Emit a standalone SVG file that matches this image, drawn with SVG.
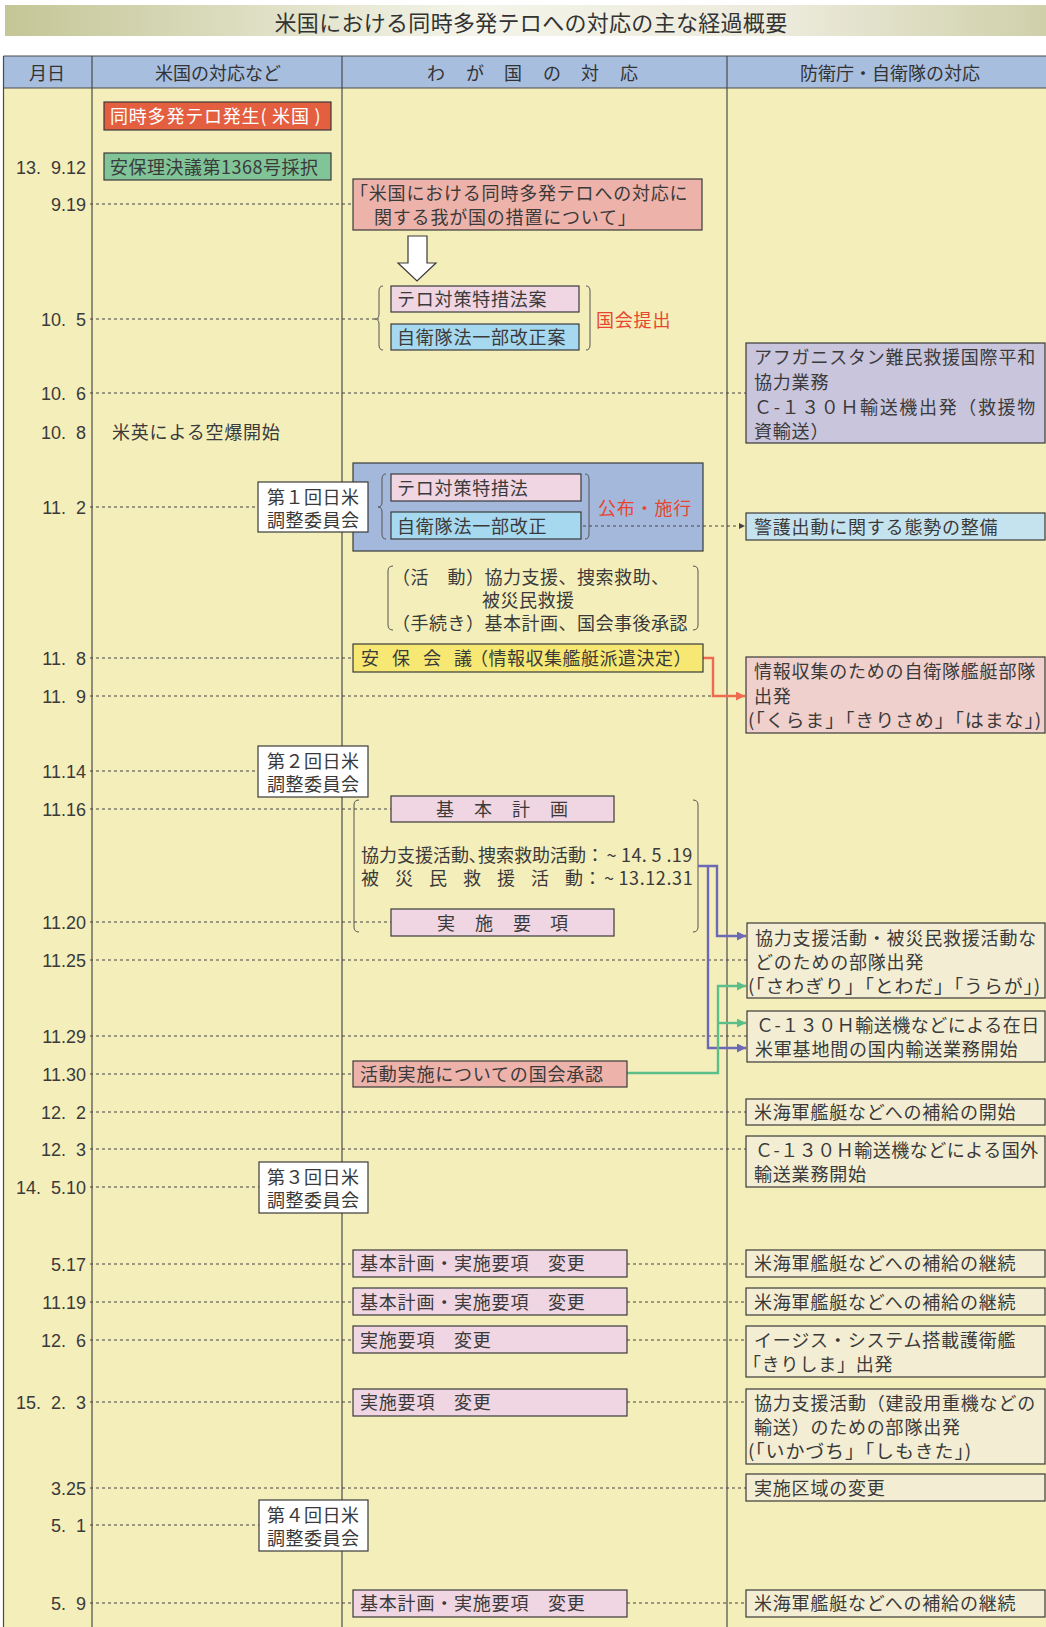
<svg xmlns="http://www.w3.org/2000/svg" width="1046" height="1627" viewBox="0 0 1046 1627">
<style>
.t{font-family:"Noto Sans CJK JP","Noto Sans",sans-serif;font-size:18px;fill:#3a3a3a;letter-spacing:0.8px}
.n{letter-spacing:0.5px}
.h{font-family:"Noto Sans CJK JP","Noto Sans",sans-serif;font-size:18px;fill:#333;text-anchor:middle}
.d{font-family:"Liberation Sans",Arial,sans-serif;font-size:18px;fill:#3a3a3a;text-anchor:end}
.red{fill:#e8452f}
.wt{fill:#fff}
.box{stroke:#3a3a3a;stroke-width:1.2}
.cream{fill:#f3eed3}
.pink{fill:#f0d5e2}
.salmon{fill:#edb2aa}
.lblue{fill:#a6d8ef}
.white{fill:#fff}
.dot{stroke:#444;stroke-width:1;stroke-dasharray:3 3;fill:none}
.brace{stroke:#555;stroke-width:1;fill:none}
.col{stroke:#4a4a4a;stroke-width:1.2}
</style>
<defs>
<linearGradient id="tg" x1="0" y1="0" x2="1" y2="0">
<stop offset="0" stop-color="#c4c696"/>
<stop offset="0.45" stop-color="#f4f4ea"/>
<stop offset="0.75" stop-color="#eceadb"/>
<stop offset="1" stop-color="#cfd0aa"/>
</linearGradient>
<marker id="arP" viewBox="0 0 10 10" refX="10" refY="5" markerWidth="9" markerHeight="9" markerUnits="userSpaceOnUse" orient="auto"><path d="M0,0 L10,5 L0,10 z" fill="#6b68b5"/></marker>
<marker id="arG" viewBox="0 0 10 10" refX="10" refY="5" markerWidth="9" markerHeight="9" markerUnits="userSpaceOnUse" orient="auto"><path d="M0,0 L10,5 L0,10 z" fill="#5cbf8a"/></marker>
<marker id="arO" viewBox="0 0 10 10" refX="10" refY="5" markerWidth="9" markerHeight="9" markerUnits="userSpaceOnUse" orient="auto"><path d="M0,0 L10,5 L0,10 z" fill="#ef6a4e"/></marker>
<marker id="arD" viewBox="0 0 10 10" refX="10" refY="5" markerWidth="6" markerHeight="6" markerUnits="userSpaceOnUse" orient="auto"><path d="M0,0 L10,5 L0,10 z" fill="#444"/></marker>
</defs>
<rect width="1046" height="1627" fill="#fff"/>
<g id="title">
<rect x="5" y="5" width="1041" height="31" fill="url(#tg)"/>
<text x="531" y="30.5" font-family="Noto Sans CJK JP, sans-serif" font-size="22" fill="#333" text-anchor="middle" letter-spacing="0.3">米国における同時多発テロへの対応の主な経過概要</text>
</g>
<g id="table">
<rect x="3.5" y="56" width="1043" height="1572" fill="#f4eebb"/>
<rect x="3.5" y="56" width="1043" height="32" fill="#a7bedf"/>
<line class="col" x1="3.5" y1="56" x2="1046" y2="56"/>
<line class="col" x1="3.5" y1="88" x2="1046" y2="88"/>
<line class="col" x1="3.5" y1="56" x2="3.5" y2="1627"/>
<line class="col" x1="92" y1="56" x2="92" y2="1627"/>
<line class="col" x1="342" y1="56" x2="342" y2="1627"/>
<line class="col" x1="727" y1="56" x2="727" y2="1627"/>
<text class="h" x="47" y="80">月日</text>
<text class="h" x="218" y="80">米国の対応など</text>
<text class="h" y="80" style="text-anchor:start"><tspan x="427">わ</tspan><tspan x="466">が</tspan><tspan x="504">国</tspan><tspan x="543">の</tspan><tspan x="581">対</tspan><tspan x="620">応</tspan></text>
<text class="h" x="890" y="80">防衛庁・自衛隊の対応</text>
</g>
<g id="dates">
<text class="d" x="86" y="173.5">13.&#160;&#160;9.12</text>
<text class="d" x="86" y="210.5">9.19</text>
<text class="d" x="86" y="325.5">10.&#160;&#160;5</text>
<text class="d" x="86" y="399.5">10.&#160;&#160;6</text>
<text class="d" x="86" y="438.5">10.&#160;&#160;8</text>
<text class="d" x="86" y="513.5">11.&#160;&#160;2</text>
<text class="d" x="86" y="664.5">11.&#160;&#160;8</text>
<text class="d" x="86" y="702.5">11.&#160;&#160;9</text>
<text class="d" x="86" y="777.5">11.14</text>
<text class="d" x="86" y="815.5">11.16</text>
<text class="d" x="86" y="928.5">11.20</text>
<text class="d" x="86" y="966.5">11.25</text>
<text class="d" x="86" y="1042.5">11.29</text>
<text class="d" x="86" y="1080.5">11.30</text>
<text class="d" x="86" y="1118.5">12.&#160;&#160;2</text>
<text class="d" x="86" y="1155.5">12.&#160;&#160;3</text>
<text class="d" x="86" y="1193.5">14.&#160;&#160;5.10</text>
<text class="d" x="86" y="1270.5">5.17</text>
<text class="d" x="86" y="1308.5">11.19</text>
<text class="d" x="86" y="1346.5">12.&#160;&#160;6</text>
<text class="d" x="86" y="1408.5">15.&#160;&#160;2.&#160;&#160;3</text>
<text class="d" x="86" y="1494.5">3.25</text>
<text class="d" x="86" y="1531.5">5.&#160;&#160;1</text>
<text class="d" x="86" y="1609.5">5.&#160;&#160;9</text>
</g>
<g id="node-group-kofu">
<rect class="box" x="353" y="463" width="350" height="88" fill="#a4b8dc"/>
</g>
<g id="connectors">
<path class="dot" d="M90,204H353M90,319H379M90,393H746M90,507H258M90,658H353M90,696H713M90,771H258M90,809H391M90,922H391M90,960H747M90,1036H747M90,1074H353M90,1112H746M90,1149H746M90,1187H259M90,1264H353M627,1264H746M90,1302H353M627,1302H746M90,1340H353M627,1340H746M90,1402H353M627,1402H746M90,1488H746M90,1525H259M90,1603H353M627,1603H746"/>
<path class="dot" d="M583,526H745" marker-end="url(#arD)"/>
<path d="M383,286Q379,286 379,291V314Q379,319 375,319Q379,319 379,324V345Q379,350 383,350" class="brace"/>
<path d="M586,286Q590,286 590,291V345Q590,350 586,350" class="brace"/>
<path d="M386,474Q382,474 382,479V502Q382,507 378,507Q382,507 382,512V534Q382,539 386,539" class="brace"/>
<path d="M585,474Q589,474 589,479V534Q589,539 585,539" class="brace"/>
<path d="M393,566Q388,566 388,571V625Q388,630 393,630" class="brace"/>
<path d="M693,566Q698,566 698,571V625Q698,630 693,630" class="brace"/>
<path d="M359,800Q354,800 354,805V927Q354,932 359,932" class="brace"/>
<path d="M693,800Q698,800 698,805V927Q698,932 693,932" class="brace"/>
<path d="M703,658H713V696H745" stroke="#ef6a4e" stroke-width="2.4" fill="none" marker-end="url(#arO)"/>
<path d="M698,866H717V936H746" stroke="#6b68b5" stroke-width="2.4" fill="none" marker-end="url(#arP)"/>
<path d="M708,866V1048H746" stroke="#6b68b5" stroke-width="2.4" fill="none" marker-end="url(#arP)"/>
<path d="M627,1073H718V986H746" stroke="#5cbf8a" stroke-width="2.4" fill="none" marker-end="url(#arG)"/>
<path d="M718,1023H746" stroke="#5cbf8a" stroke-width="2.4" fill="none" marker-end="url(#arG)"/>
<polygon points="408,236 427,236 427,263 436,263 417,281 398,263 408,263" fill="#fff" stroke="#3a3a3a" stroke-width="1.2"/>
</g>
<g id="node-us-attack">
<rect class="box" x="104" y="102" width="227" height="28" fill="#e35f3f"/>
<text class="t wt" x="110" y="123">同時多発テロ発生( 米国 )</text>
</g>
<g id="node-un1368">
<rect class="box" x="104" y="153" width="227" height="27" fill="#80c498"/>
<text class="t n" x="110" y="174">安保理決議第1368号採択</text>
</g>
<g id="node-measures">
<rect class="box salmon" x="353" y="179" width="349" height="51"/>
<text class="t" x="350" y="200">「米国における同時多発テロへの対応に</text>
<text class="t" x="374" y="224">関する我が国の措置について」</text>
</g>
<g id="node-bill1">
<rect class="box pink" x="391" y="286" width="188" height="26"/>
<text class="t" x="397" y="306">テロ対策特措法案</text>
</g>
<g id="node-bill2">
<rect class="box lblue" x="391" y="324" width="188" height="26"/>
<text class="t" x="397" y="344">自衛隊法一部改正案</text>
</g>
<g id="node-teishutsu"><text class="t red" x="596" y="327">国会提出</text></g>
<g id="node-afghan">
<rect class="box" x="746" y="343" width="299" height="100" fill="#c9c5dd"/>
<text class="t" x="754" y="364">アフガニスタン難民救援国際平和</text>
<text class="t" x="754" y="389">協力業務</text>
<text class="t" x="754" y="414" textLength="282" lengthAdjust="spacing">Ｃ-１３０Ｈ輸送機出発（救援物</text>
<text class="t" x="754" y="438">資輸送）</text>
</g>
<g id="node-airstrike"><text class="t" x="112" y="439">米英による空爆開始</text></g>
<g id="node-law1">
<rect class="box pink" x="391" y="474" width="190" height="27"/>
<text class="t" x="397" y="494.5">テロ対策特措法</text>
</g>
<g id="node-law2">
<rect class="box lblue" x="391" y="512" width="190" height="27"/>
<text class="t" x="397" y="532.5">自衛隊法一部改正</text>
</g>
<g id="node-kofu-label"><text class="t red" x="598" y="515">公布・施行</text></g>
<g id="node-jpus1">
<rect class="box white" x="258" y="482" width="110" height="50"/>
<text class="t n" x="267" y="504">第１回日米</text>
<text class="t n" x="267" y="527">調整委員会</text>
</g>
<g id="node-keigo">
<rect class="box" x="746" y="513" width="299" height="27" fill="#c5e3ee"/>
<text class="t" x="754" y="533.5">警護出動に関する態勢の整備</text>
</g>
<g id="node-activities">
<text class="t n" x="392" y="584">（活　動）協力支援、捜索救助、</text>
<text class="t n" x="482" y="607">被災民救援</text>
<text class="t n" x="392" y="630">（手続き）基本計画、国会事後承認</text>
</g>
<g id="node-ampo">
<rect class="box" x="353" y="644" width="350" height="28" fill="#f6e873"/>
<text class="t n" y="665"><tspan x="361">安</tspan><tspan x="392">保</tspan><tspan x="423">会</tspan><tspan x="454">議</tspan><tspan x="470">（情報収集艦艇派遣決定）</tspan></text>
</g>
<g id="node-kurama">
<rect class="box" x="746" y="657" width="299" height="76" fill="#f0d0cc"/>
<text class="t" x="754" y="678">情報収集のための自衛隊艦艇部隊</text>
<text class="t" x="754" y="703">出発</text>
<text class="t" x="748" y="727" textLength="294" lengthAdjust="spacingAndGlyphs">(「くらま」「きりさめ」「はまな」)</text>
</g>
<g id="node-jpus2">
<rect class="box white" x="258" y="746" width="110" height="51"/>
<text class="t n" x="267" y="768">第２回日米</text>
<text class="t n" x="267" y="791">調整委員会</text>
</g>
<g id="node-kihon">
<rect class="box pink" x="391" y="796" width="223" height="26"/>
<text class="t" y="816"><tspan x="436">基</tspan><tspan x="474">本</tspan><tspan x="512">計</tspan><tspan x="550">画</tspan></text>
</g>
<g id="node-periods">
<text class="t n" y="862"><tspan x="361" letter-spacing="0">協力支援活動､捜索救助活動</tspan><tspan>：</tspan><tspan dx="2">~</tspan><tspan dx="4" letter-spacing="0.4">14. 5 .19</tspan></text>
<text class="t n" y="885"><tspan x="361">被</tspan><tspan x="395">災</tspan><tspan x="429">民</tspan><tspan x="463">救</tspan><tspan x="497">援</tspan><tspan x="531">活</tspan><tspan x="565">動</tspan><tspan>：</tspan><tspan dx="2">~</tspan><tspan dx="4" letter-spacing="0.6">13.12.31</tspan></text>
</g>
<g id="node-jisshi">
<rect class="box pink" x="391" y="909" width="223" height="27"/>
<text class="t" y="929.5"><tspan x="437">実</tspan><tspan x="475">施</tspan><tspan x="513">要</tspan><tspan x="550">項</tspan></text>
</g>
<g id="node-sawagiri">
<rect class="box cream" x="747" y="923" width="298" height="75"/>
<text class="t" x="755" y="945">協力支援活動・被災民救援活動な</text>
<text class="t" x="755" y="969">どのための部隊出発</text>
<text class="t" x="748" y="993" textLength="293" lengthAdjust="spacingAndGlyphs">(「さわぎり」「とわだ」「うらが」)</text>
</g>
<g id="node-c130-domestic">
<rect class="box cream" x="747" y="1011" width="298" height="51"/>
<text class="t n" x="756" y="1032">Ｃ-１３０Ｈ輸送機などによる在日</text>
<text class="t" x="755" y="1056">米軍基地間の国内輸送業務開始</text>
</g>
<g id="node-diet-approval">
<rect class="box salmon" x="353" y="1061" width="274" height="26"/>
<text class="t" x="360" y="1081">活動実施についての国会承認</text>
</g>
<g id="node-supply-start">
<rect class="box cream" x="746" y="1099" width="299" height="26"/>
<text class="t" x="754" y="1119">米海軍艦艇などへの補給の開始</text>
</g>
<g id="node-c130-abroad">
<rect class="box cream" x="746" y="1136" width="299" height="51"/>
<text class="t n" x="755" y="1157">Ｃ-１３０Ｈ輸送機などによる国外</text>
<text class="t" x="754" y="1181">輸送業務開始</text>
</g>
<g id="node-jpus3">
<rect class="box white" x="259" y="1162" width="109" height="51"/>
<text class="t n" x="267" y="1184">第３回日米</text>
<text class="t n" x="267" y="1207">調整委員会</text>
</g>
<g id="node-change-0517">
<rect class="box pink" x="353" y="1250" width="274" height="27"/>
<text class="t" x="360" y="1270">基本計画・実施要項　変更</text>
</g>
<g id="node-supply-0517">
<rect class="box cream" x="746" y="1250" width="299" height="27"/>
<text class="t" x="754" y="1270">米海軍艦艇などへの補給の継続</text>
</g>
<g id="node-change-1119">
<rect class="box pink" x="353" y="1288" width="274" height="27"/>
<text class="t" x="360" y="1309">基本計画・実施要項　変更</text>
</g>
<g id="node-supply-1119">
<rect class="box cream" x="746" y="1288" width="299" height="27"/>
<text class="t" x="754" y="1309">米海軍艦艇などへの補給の継続</text>
</g>
<g id="node-change-1206">
<rect class="box pink" x="353" y="1326" width="274" height="27"/>
<text class="t" x="360" y="1347">実施要項　変更</text>
</g>
<g id="node-kirishima">
<rect class="box cream" x="746" y="1326" width="299" height="51"/>
<text class="t" x="754" y="1347">イージス・システム搭載護衛艦</text>
<text class="t" x="743" y="1371" letter-spacing="1.2">「きりしま」出発</text>
</g>
<g id="node-change-0203">
<rect class="box pink" x="353" y="1389" width="274" height="27"/>
<text class="t" x="360" y="1409">実施要項　変更</text>
</g>
<g id="node-ikazuchi">
<rect class="box cream" x="746" y="1389" width="299" height="75"/>
<text class="t" x="754" y="1410">協力支援活動（建設用重機などの</text>
<text class="t" x="754" y="1434">輸送）のための部隊出発</text>
<text class="t" x="748" y="1458" textLength="224" lengthAdjust="spacingAndGlyphs">(「いかづち」「しもきた」)</text>
</g>
<g id="node-area-change">
<rect class="box cream" x="746" y="1474" width="299" height="27"/>
<text class="t" x="754" y="1495">実施区域の変更</text>
</g>
<g id="node-jpus4">
<rect class="box white" x="259" y="1500" width="109" height="51"/>
<text class="t n" x="267" y="1522">第４回日米</text>
<text class="t n" x="267" y="1545">調整委員会</text>
</g>
<g id="node-change-0509">
<rect class="box pink" x="353" y="1590" width="274" height="27"/>
<text class="t" x="360" y="1610">基本計画・実施要項　変更</text>
</g>
<g id="node-supply-0509">
<rect class="box cream" x="746" y="1590" width="299" height="27"/>
<text class="t" x="754" y="1610">米海軍艦艇などへの補給の継続</text>
</g>
</svg>
